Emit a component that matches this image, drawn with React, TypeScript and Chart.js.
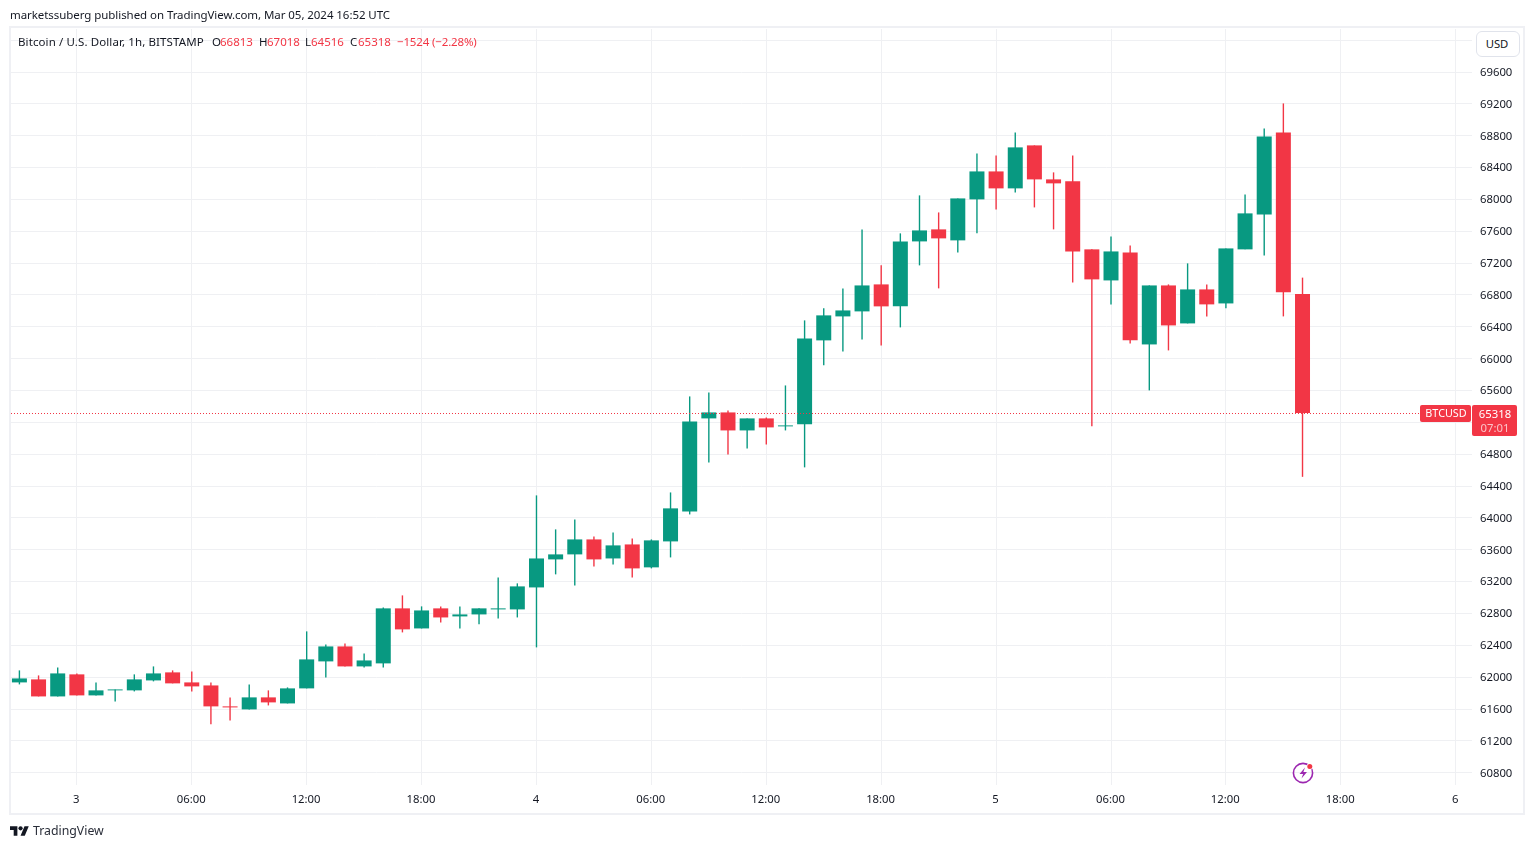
import { useEffect, useRef } from 'react';
import { Chart, registerables } from 'chart.js';
import type { Plugin } from 'chart.js';

Chart.register(...registerables);

const opens = [
  61934, 61972, 61758, 62035, 61771, 61834, 61834, 61959, 62060, 61934, 61896, 61633, 61595, 61746, 61670, 61859, 62198,
  62386, 62135, 62173, 62864, 62612, 62864, 62763, 62788, 62851, 62851, 63127, 63479, 63542, 63730, 63491, 63667, 63379,
  63705, 64082, 65250, 65325, 65099, 65250, 65150, 65175, 66230, 66531, 66594, 66933, 66657, 67473, 67624, 67486, 68001,
  68352, 68139, 68679, 68252, 68227, 67373, 66983, 67335, 66179, 66920, 66443, 66870, 66694, 67373, 67812, 68842, 66813,
];
const closes = [
  61984, 61758, 62047, 61771, 61834, 61846, 61972, 62047, 61922, 61884, 61633, 61620, 61746, 61683, 61859, 62223, 62386,
  62135, 62210, 62864, 62600, 62838, 62750, 62788, 62864, 62864, 63140, 63491, 63542, 63730, 63479, 63655, 63366, 63718,
  64120, 65212, 65325, 65099, 65250, 65137, 65162, 66255, 66544, 66606, 66920, 66657, 67473, 67611, 67511, 68013, 68352,
  68139, 68654, 68252, 68202, 67347, 66996, 67347, 66230, 66920, 66418, 66870, 66682, 67385, 67825, 68792, 66833, 65318,
];
const highs = [
  62085, 62022, 62122, 62047, 61934, 61846, 62035, 62135, 62085, 62072, 61934, 61746, 61909, 61834, 61871, 62575, 62411,
  62424, 62298, 62876, 63027, 62889, 62889, 62889, 62864, 63253, 63178, 64283, 63856, 63981, 63768, 63818, 63743, 63730,
  64320, 65526, 65576, 65350, 65250, 65262, 65664, 66481, 66632, 66883, 67624, 67172, 67574, 68051, 67837, 68013, 68578,
  68553, 68842, 68679, 68340, 68553, 67373, 67536, 67423, 66920, 66933, 67197, 66933, 67385, 68063, 68892, 69206, 67018,
];
const lows = [
  61909, 61758, 61758, 61771, 61771, 61695, 61821, 61947, 61922, 61821, 61407, 61457, 61595, 61645, 61670, 61859, 61997,
  62135, 62122, 62122, 62562, 62612, 62688, 62612, 62663, 62738, 62750, 62374, 63291, 63152, 63391, 63416, 63253, 63366,
  63504, 64044, 64697, 64798, 64873, 64923, 65099, 64635, 65916, 66091, 66242, 66167, 66393, 67172, 66883, 67335, 67574,
  67875, 68088, 67900, 67624, 66958, 65150, 66682, 66192, 65602, 66104, 66443, 66531, 66632, 67373, 67297, 66531, 64516,
];

const priceTicks = [
  70000, 69600, 69200, 68800, 68400, 68000, 67600, 67200, 66800, 66400, 66000, 65600, 65200, 64800, 64400, 64000, 63600,
  63200, 62800, 62400, 62000, 61600, 61200, 60800,
];
const hourTicks = [3, 9, 15, 21, 27, 33, 39, 45, 51, 57, 63, 69, 75];
const hourLabels = ['3', '06:00', '12:00', '18:00', '4', '06:00', '12:00', '18:00', '5', '06:00', '12:00', '18:00', '6'];

const lastClose = 65318;
const symbol = 'BTCUSD';
const countdown = '07:01';

const UP = '#089981';
const DOWN = '#F23645';
const GRID = '#eff0f3';
const TEXT = '#131722';
const FONT = '"Noto Sans", sans-serif';

const candleColors = opens.map((o, i) => (closes[i] >= o ? UP : DOWN));

// dotted last price line over the candles, red price tags on the right axis
const priceTagPlugin: Plugin = {
  id: 'priceTag',
  afterDatasetsDraw(chart) {
    const { ctx, scales, chartArea } = chart;
    const y = Math.round(scales.y.getPixelForValue(lastClose)) + 0.5;
    ctx.save();
    ctx.strokeStyle = DOWN;
    ctx.lineWidth = 1;
    ctx.setLineDash([1, 2]);
    ctx.beginPath();
    ctx.moveTo(chartArea.left, y);
    ctx.lineTo(chartArea.right, y);
    ctx.stroke();
    ctx.restore();
  },
  afterDraw(chart) {
    const { ctx, scales } = chart;
    const y = scales.y.getPixelForValue(lastClose);
    const axisLeft = scales.y.left;
    ctx.save();
    ctx.fillStyle = DOWN;
    ctx.beginPath();
    ctx.roundRect(axisLeft, y - 8, 45, 31, 2);
    ctx.fill();
    ctx.beginPath();
    ctx.roundRect(axisLeft - 52, y - 8, 51, 17, 2);
    ctx.fill();
    ctx.textBaseline = 'middle';
    ctx.textAlign = 'center';
    ctx.fillStyle = '#ffffff';
    ctx.font = `10.8px ${FONT}`;
    ctx.fillText(symbol, axisLeft - 26, y + 1);
    ctx.font = `11.3px ${FONT}`;
    ctx.fillText(String(lastClose), axisLeft + 23, y + 1.5);
    ctx.fillStyle = 'rgba(255,255,255,0.7)';
    ctx.fillText(countdown, axisLeft + 23, y + 16);
    ctx.restore();
  },
};

function BtcChart() {
  const canvasRef = useRef<HTMLCanvasElement>(null);

  useEffect(() => {
    if (!canvasRef.current) return;

    const chart = new Chart(canvasRef.current, {
      type: 'bar',
      data: {
        datasets: [
          {
            data: opens.map((o, i) => ({ x: i, y: [o, closes[i]] })),
            backgroundColor: candleColors,
            barThickness: 15,
            grouped: false,
            inflateAmount: 0,
            order: 1,
          },
          {
            data: lows.map((l, i) => ({ x: i, y: [l, highs[i]] })),
            backgroundColor: candleColors,
            barThickness: 1.4,
            grouped: false,
            inflateAmount: 0,
            order: 2,
          },
        ] as any,
      },
      options: {
        responsive: false,
        animation: false,
        layout: { padding: { left: 11, top: 29, right: 0, bottom: 0 } },
        plugins: { legend: { display: false }, tooltip: { enabled: false } },
        scales: {
          x: {
            type: 'linear',
            min: -0.439,
            max: 75.85,
            offset: false,
            grid: { color: GRID, drawTicks: false, offset: false },
            border: { display: false },
            afterBuildTicks: (s) => { s.ticks = hourTicks.map((value) => ({ value })); },
            afterFit: (s) => { s.height = 64; },
            ticks: {
              autoSkip: false,
              maxRotation: 0,
              padding: 8,
              labelOffset: -0.6,
              color: TEXT,
              font: { family: FONT, size: 11.3 },
              callback: (v) => hourLabels[hourTicks.indexOf(Number(v))],
            },
          },
          y: {
            position: 'right',
            min: 60645.5,
            max: 70140.8,
            grid: { color: GRID, drawTicks: false },
            border: { display: false },
            afterBuildTicks: (s) => { s.ticks = priceTicks.map((value) => ({ value })); },
            afterFit: (s) => { s.width = 62; },
            ticks: {
              autoSkip: false,
              padding: 8,
              labelOffset: 0.6,
              color: TEXT,
              font: { family: FONT, size: 11.3 },
              callback: (v) => (Number(v) > 69600 ? '' : String(v)),
            },
          },
        },
      },
      plugins: [priceTagPlugin],
    });

    return () => { chart.destroy(); };
  }, []);

  return <canvas ref={canvasRef} width={1534} height={849} style={{ position: 'absolute', left: 0, top: 0 }} />;
}

function Label({ x, y, color = TEXT, size = 11.5, spacing = 0, children }: any) {
  return (
    <span style={{ position: 'absolute', left: x, top: y, color, fontSize: size, letterSpacing: spacing, lineHeight: '16px', whiteSpace: 'nowrap' }}>
      {children}
    </span>
  );
}

export default function App() {
  return (
    <div style={{ position: 'fixed', left: 0, top: 0, width: 1534, height: 849, background: '#fff', overflow: 'hidden', fontFamily: FONT }}>
      <div style={{ position: 'absolute', left: 9, top: 26, width: 1516, height: 789, boxSizing: 'border-box', border: '2px solid #eff0f4' }} />
      <BtcChart />
      <Label x={10} y={7} spacing={-0.06}>marketssuberg published on TradingView.com, Mar 05, 2024 16:52 UTC</Label>
      <Label x={18} y={34} spacing={0.11}>Bitcoin / U.S. Dollar, 1h, BITSTAMP</Label>
      <Label x={212} y={34}>O</Label>
      <Label x={220} y={34} color={DOWN}>66813</Label>
      <Label x={259} y={34}>H</Label>
      <Label x={267} y={34} color={DOWN}>67018</Label>
      <Label x={305} y={34}>L</Label>
      <Label x={311} y={34} color={DOWN}>64516</Label>
      <Label x={350} y={34}>C</Label>
      <Label x={358} y={34} color={DOWN}>65318</Label>
      <Label x={397} y={34} color={DOWN} spacing={-0.15}>−1524 (−2.28%)</Label>
      <div style={{ position: 'absolute', left: 1476, top: 31, width: 44, height: 26, boxSizing: 'border-box', border: '1px solid #e0e3eb', borderRadius: 6, background: '#fff', color: TEXT, fontSize: 11.3, lineHeight: '24px', textAlign: 'center', paddingRight: 2 }}>USD</div>
      <svg width="22" height="24" viewBox="0 0 22 24" style={{ position: 'absolute', left: 1291.5, top: 761 }}>
        <circle cx="11" cy="12" r="9.6" fill="none" stroke="#9c27b0" strokeWidth="1.6" />
        <path d="M13 6.5 7.5 13h3.6L9.5 17.5 15 11h-3.6z" fill="#9c27b0" />
        <circle cx="17.8" cy="5.6" r="3.2" fill="#fff" />
        <circle cx="17.8" cy="5.6" r="2.5" fill={DOWN} />
      </svg>
      <svg width="19" height="15" viewBox="0 0 36 28" fill="#131722" style={{ position: 'absolute', left: 10, top: 824 }}>
        <path d="M14 22H7V11H0V4h14v18zM28 22h-8l7.5-18h8L28 22z" />
        <circle cx="20" cy="8" r="4" />
      </svg>
      <Label x={33} y={823} size={12.3} color="#2a2e39">TradingView</Label>
    </div>
  );
}
